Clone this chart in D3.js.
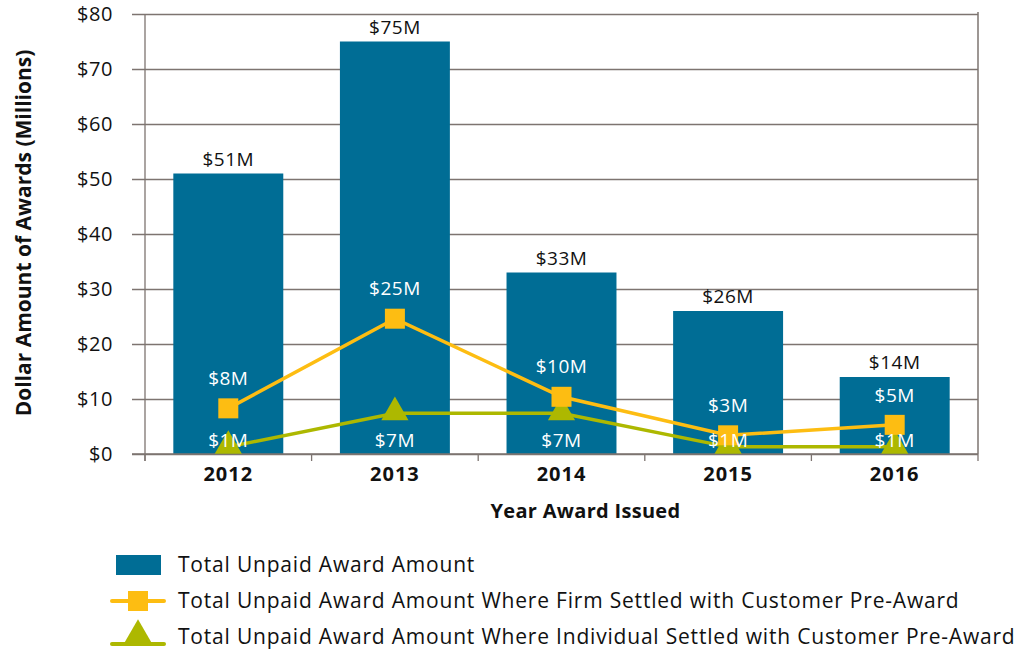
<!DOCTYPE html>
<html>
<head>
<meta charset="utf-8">
<script src="https://cdn.jsdelivr.net/npm/d3@7"></script>
<style>
  body { margin: 0; background: #fff; }
  svg { font-family: "Open Sans", "Noto Sans", sans-serif; }
  .grid line { stroke: #7d7470; stroke-width: 1.3; }
  .grid path { display: none; }
</style>
</head>
<body>
<svg width="1020" height="651"></svg>
<script>
var years = ["2012", "2013", "2014", "2015", "2016"];
var totalUnpaid = [51, 75, 33, 26, 14];
var firmSettled = [8.3, 24.6, 10.4, 3.4, 5.3];
var indivSettled = [1.3, 7.4, 7.4, 1.3, 1.3];
var yTicks = [0, 10, 20, 30, 40, 50, 60, 70, 80];
var seriesNames = [
  "Total Unpaid Award Amount",
  "Total Unpaid Award Amount Where Firm Settled with Customer Pre-Award",
  "Total Unpaid Award Amount Where Individual Settled with Customer Pre-Award"
];

var blue = "#006d95", orange = "#fdbd12", green = "#adb800", axisCol = "#7d7470";

var margin = {top: 14, left: 145, right: 42, bottom: 197},
    width = 1020 - margin.left - margin.right,
    height = 651 - margin.top - margin.bottom;

var svg = d3.select("svg")
  .append("g")
    .attr("transform", "translate(" + margin.left + "," + margin.top + ")");

var xScale = d3.scaleBand().domain(years).range([0, width]).paddingInner(0.34).paddingOuter(0.17);
var yScale = d3.scaleLinear().domain([0, 80]).range([height, 0]);
var cx = function(i) { return xScale(years[i]) + xScale.bandwidth() / 2; };

// gridlines
svg.append("g")
    .attr("class", "grid")
    .call(d3.axisLeft(yScale).tickValues(yTicks).tickSize(-width - 13).tickFormat(""))
    .attr("transform", "translate(-13,0)")
    .selectAll("line").attr("x1", 0).attr("x2", width + 13);

// right border
svg.append("line")
    .attr("x1", width).attr("x2", width)
    .attr("y1", -2).attr("y2", height)
    .attr("stroke", axisCol).attr("stroke-width", 1.5);

// y axis line
svg.append("line")
    .attr("x1", 0).attr("x2", 0)
    .attr("y1", 0).attr("y2", height + 7)
    .attr("stroke", axisCol).attr("stroke-width", 1.3);

// y tick labels
svg.selectAll(".ylab")
    .data(yTicks)
  .enter().append("text")
    .attr("x", -32)
    .attr("y", function(d) { return yScale(d); })
    .attr("dy", "0.35em")
    .attr("text-anchor", "end")
    .style("font-size", "20px")
    .style("letter-spacing", "0.6px")
    .attr("fill", "#111")
    .text(function(d) { return "$" + d; });

// x boundary ticks
var step = xScale.step();
svg.selectAll(".xtick")
    .data(d3.range(years.length + 1))
  .enter().append("line")
    .attr("x1", function(i) { return i * step; })
    .attr("x2", function(i) { return i * step; })
    .attr("y1", height).attr("y2", height + 7)
    .attr("stroke", axisCol).attr("stroke-width", 1.3);

// bars
svg.selectAll(".bar")
    .data(totalUnpaid)
  .enter().append("rect")
    .attr("x", function(d, i) { return xScale(years[i]); })
    .attr("width", xScale.bandwidth())
    .attr("y", function(d) { return yScale(d); })
    .attr("height", function(d) { return height - yScale(d); })
    .attr("fill", blue);

// x axis baseline
svg.append("line")
    .attr("x1", -13).attr("x2", width)
    .attr("y1", height).attr("y2", height)
    .attr("stroke", axisCol).attr("stroke-width", 1.3);

// bar labels
svg.selectAll(".barlab")
    .data(totalUnpaid)
  .enter().append("text")
    .attr("x", function(d, i) { return cx(i); })
    .attr("y", function(d) { return yScale(d) - 8; })
    .attr("text-anchor", "middle")
    .style("font-size", "19px")
    .style("letter-spacing", "0.5px")
    .attr("fill", "#111")
    .text(function(d) { return "$" + d + "M"; });

var line = d3.line()
    .x(function(d, i) { return cx(i); })
    .y(function(d) { return yScale(d); });

// firm line
svg.append("path")
    .datum(firmSettled)
    .attr("d", line)
    .attr("fill", "none")
    .attr("stroke", orange)
    .attr("stroke-width", 3.5);

// individual line
svg.append("path")
    .datum(indivSettled)
    .attr("d", line)
    .attr("fill", "none")
    .attr("stroke", green)
    .attr("stroke-width", 3.5);

var tri = d3.symbol().type(d3.symbolTriangle).size(320);

svg.selectAll(".tri")
    .data(indivSettled)
  .enter().append("path")
    .attr("d", tri)
    .attr("transform", function(d, i) { return "translate(" + cx(i) + "," + (yScale(d) - 1) + ")"; })
    .attr("fill", green);

svg.selectAll(".sq")
    .data(firmSettled)
  .enter().append("rect")
    .attr("x", function(d, i) { return cx(i) - 10; })
    .attr("y", function(d) { return yScale(d) - 10; })
    .attr("width", 20).attr("height", 20)
    .attr("fill", orange);

// firm labels
svg.selectAll(".firmlab")
    .data(firmSettled)
  .enter().append("text")
    .attr("x", function(d, i) { return cx(i); })
    .attr("y", function(d) { return yScale(d) - 30; })
    .attr("dy", "0.35em")
    .attr("text-anchor", "middle")
    .style("font-size", "19px")
    .style("letter-spacing", "0.5px")
    .attr("fill", "#fff")
    .text(function(d) { return "$" + Math.round(d) + "M"; });

// individual labels (inside base)
svg.selectAll(".indlab")
    .data(indivSettled)
  .enter().append("text")
    .attr("x", function(d, i) { return cx(i); })
    .attr("y", height - 14)
    .attr("dy", "0.35em")
    .attr("text-anchor", "middle")
    .style("font-size", "19px")
    .style("letter-spacing", "0.5px")
    .attr("fill", "#fff")
    .text(function(d) { return "$" + Math.round(d) + "M"; });

// category labels
svg.selectAll(".catlab")
    .data(years)
  .enter().append("text")
    .attr("x", function(d, i) { return cx(i); })
    .attr("y", height + 20)
    .attr("dy", "0.35em")
    .attr("text-anchor", "middle")
    .style("font-size", "20px")
    .style("letter-spacing", "1px")
    .style("font-weight", "bold")
    .attr("fill", "#111")
    .text(function(d) { return d; });

// axis titles
svg.append("text")
    .attr("transform", "translate(" + (-121) + "," + (height / 2 - 1) + ") rotate(-90)")
    .attr("text-anchor", "middle")
    .attr("dy", "0.35em")
    .style("font-size", "21px")
    .style("font-weight", "bold")
    .attr("fill", "#111")
    .text("Dollar Amount of Awards (Millions)");

svg.append("text")
    .attr("x", width / 2 + 24)
    .attr("y", height + 57)
    .attr("dy", "0.35em")
    .attr("text-anchor", "middle")
    .style("font-size", "20px")
    .style("letter-spacing", "0.3px")
    .style("font-weight", "bold")
    .attr("fill", "#111")
    .text("Year Award Issued");

// legend
var legend = d3.select("svg").append("g");
var rowsY = [565, 601, 637];

legend.append("rect")
    .attr("x", 116).attr("y", rowsY[0] - 10)
    .attr("width", 45).attr("height", 20)
    .attr("fill", blue);

legend.append("line")
    .attr("x1", 112).attr("x2", 164)
    .attr("y1", rowsY[1]).attr("y2", rowsY[1])
    .attr("stroke", orange).attr("stroke-width", 4).attr("stroke-linecap", "round");
legend.append("rect")
    .attr("x", 128).attr("y", rowsY[1] - 10)
    .attr("width", 20).attr("height", 20)
    .attr("fill", orange);

legend.append("line")
    .attr("x1", 112).attr("x2", 164)
    .attr("y1", rowsY[2] + 7).attr("y2", rowsY[2] + 7)
    .attr("stroke", green).attr("stroke-width", 4).attr("stroke-linecap", "round");
legend.append("path")
    .attr("d", tri)
    .attr("transform", "translate(138," + (rowsY[2] - 2) + ")")
    .attr("fill", green);

legend.selectAll(".legtext")
    .data(seriesNames)
  .enter().append("text")
    .attr("x", 178)
    .attr("y", function(d, i) { return rowsY[i]; })
    .attr("dy", "0.35em")
    .style("font-size", "21px")
    .style("letter-spacing", "0.8px")
    .attr("fill", "#111")
    .text(function(d) { return d; });
</script>
</body>
</html>
